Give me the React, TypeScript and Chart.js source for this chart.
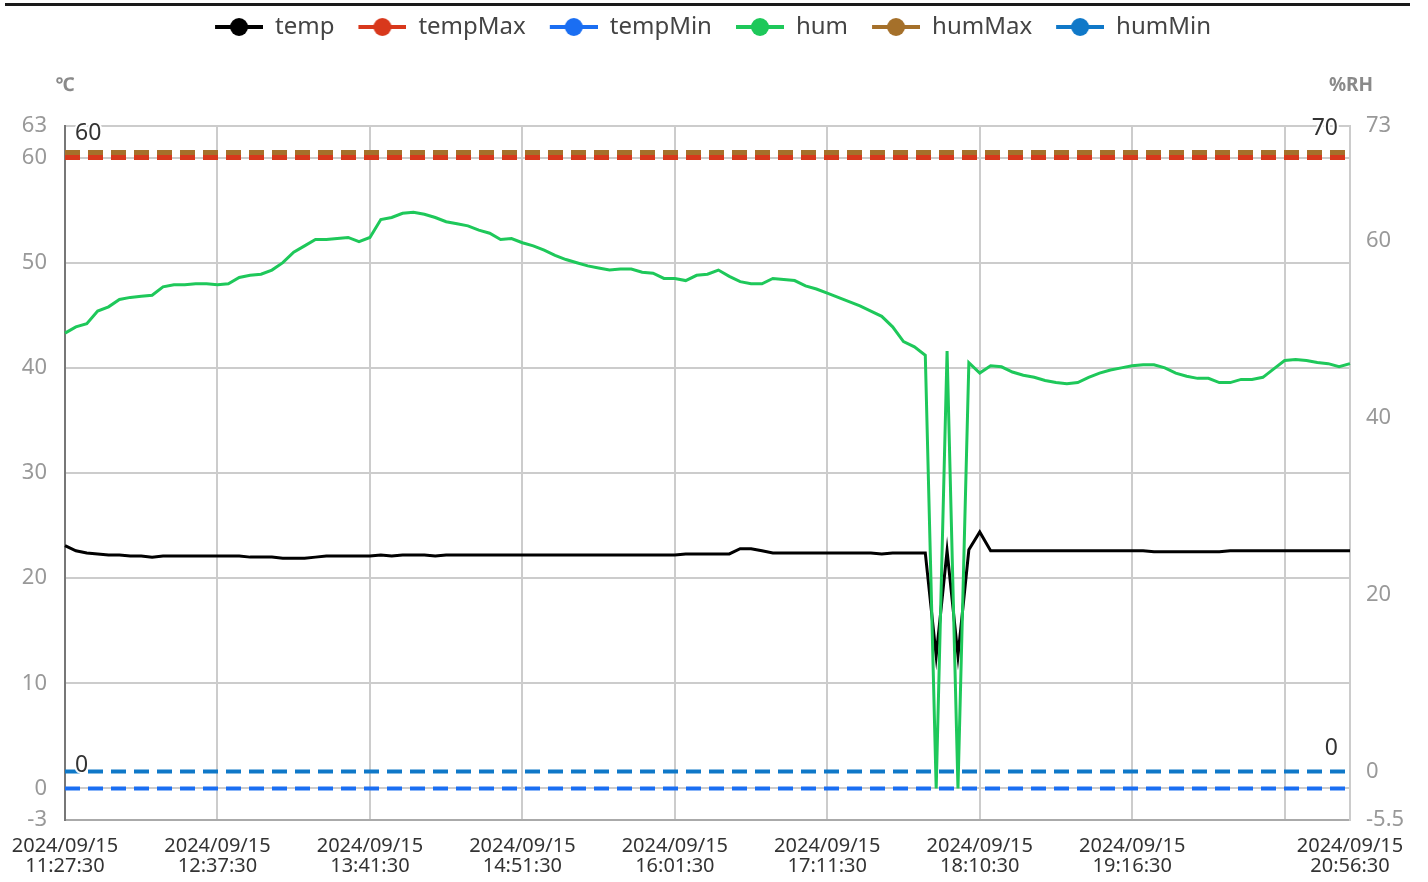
import React, { useEffect, useRef } from "react";
import { Chart, registerables } from "chart.js";

Chart.register(...registerables);

// ---- data ----
const seriesNames = ["temp", "tempMax", "tempMin", "hum", "humMax", "humMin"];
const seriesColors = ["#000000", "#d8381c", "#1a6ef2", "#1ec85a", "#a5702a", "#0f78c8"];

const temp = [
  23.1, 22.6, 22.4, 22.3, 22.2, 22.2, 22.1, 22.1, 22.0, 22.1,
  22.1, 22.1, 22.1, 22.1, 22.1, 22.1, 22.1, 22.0, 22.0, 22.0,
  21.9, 21.9, 21.9, 22.0, 22.1, 22.1, 22.1, 22.1, 22.1, 22.2,
  22.1, 22.2, 22.2, 22.2, 22.1, 22.2, 22.2, 22.2, 22.2, 22.2,
  22.2, 22.2, 22.2, 22.2, 22.2, 22.2, 22.2, 22.2, 22.2, 22.2,
  22.2, 22.2, 22.2, 22.2, 22.2, 22.2, 22.2, 22.3, 22.3, 22.3,
  22.3, 22.3, 22.8, 22.8, 22.6, 22.4, 22.4, 22.4, 22.4, 22.4,
  22.4, 22.4, 22.4, 22.4, 22.4, 22.3, 22.4, 22.4, 22.4, 22.4,
  12.6, 22.6, 12.6, 22.7, 24.4, 22.6, 22.6, 22.6, 22.6, 22.6,
  22.6, 22.6, 22.6, 22.6, 22.6, 22.6, 22.6, 22.6, 22.6, 22.6,
  22.5, 22.5, 22.5, 22.5, 22.5, 22.5, 22.5, 22.6, 22.6, 22.6,
  22.6, 22.6, 22.6, 22.6, 22.6, 22.6, 22.6, 22.6, 22.6,
];

const hum = [
  43.3, 43.9, 44.2, 45.4, 45.8, 46.5, 46.7, 46.8, 46.9, 47.7,
  47.9, 47.9, 48.0, 48.0, 47.9, 48.0, 48.6, 48.8, 48.9, 49.3,
  50.0, 51.0, 51.6, 52.2, 52.2, 52.3, 52.4, 52.0, 52.4, 54.1,
  54.3, 54.7, 54.8, 54.6, 54.3, 53.9, 53.7, 53.5, 53.1, 52.8,
  52.2, 52.3, 51.9, 51.6, 51.2, 50.7, 50.3, 50.0, 49.7, 49.5,
  49.3, 49.4, 49.4, 49.1, 49.0, 48.5, 48.5, 48.3, 48.8, 48.9,
  49.3, 48.7, 48.2, 48.0, 48.0, 48.5, 48.4, 48.3, 47.8, 47.5,
  47.1, 46.7, 46.3, 45.9, 45.4, 44.9, 43.9, 42.5, 42.0, 41.2,
  0, 41.6, 0, 40.5, 39.5, 40.2, 40.1, 39.6, 39.3, 39.1,
  38.8, 38.6, 38.5, 38.6, 39.1, 39.5, 39.8, 40.0, 40.2, 40.3,
  40.3, 40.0, 39.5, 39.2, 39.0, 39.0, 38.6, 38.6, 38.9, 38.9,
  39.1, 39.9, 40.7, 40.8, 40.7, 40.5, 40.4, 40.1, 40.4,
];

const tempMaxValue = 60;
const tempMinValue = 0;
const humMaxValue = 70;
const humMinValue = 0;

const leftTicks = [-3, 0, 10, 20, 30, 40, 50, 60, 63];
const rightTicks = [-5.5, 0, 20, 40, 60, 73];
const leftUnit = "℃";
const rightUnit = "%RH";

const xTickIndex = [0, 14, 28, 42, 56, 70, 84, 98, 112, 118];
const xTickDate = [
  "2024/09/15", "2024/09/15", "2024/09/15", "2024/09/15", "2024/09/15",
  "2024/09/15", "2024/09/15", "2024/09/15", "", "2024/09/15",
];
const xTickTime = [
  "11:27:30", "12:37:30", "13:41:30", "14:51:30", "16:01:30",
  "17:11:30", "18:10:30", "19:16:30", "", "20:56:30",
];

const FONT = "'Noto Sans', sans-serif";

function legendMarker(color: string) {
  const c = document.createElement("canvas");
  c.width = 62;
  c.height = 22;
  const ctx = c.getContext("2d")!;
  ctx.strokeStyle = color;
  ctx.lineWidth = 4;
  ctx.beginPath();
  ctx.moveTo(14, 11);
  ctx.lineTo(62, 11);
  ctx.stroke();
  ctx.fillStyle = color;
  ctx.beginPath();
  ctx.arc(38, 11, 9, 0, Math.PI * 2);
  ctx.fill();
  return c;
}

function drawTag(ctx: CanvasRenderingContext2D, text: string, x: number, y: number, align: CanvasTextAlign) {
  ctx.save();
  ctx.font = `23px ${FONT}`;
  ctx.textAlign = align;
  ctx.textBaseline = "middle";
  ctx.lineJoin = "round";
  ctx.lineWidth = 4;
  ctx.strokeStyle = "rgba(255,255,255,0.95)";
  ctx.strokeText(text, x, y);
  ctx.fillStyle = "#333";
  ctx.fillText(text, x, y);
  ctx.restore();
}

export default function App() {
  const ref = useRef<HTMLCanvasElement | null>(null);

  useEffect(() => {
    if (!ref.current) return;
    Chart.defaults.font.family = FONT;
    const markers = seriesColors.map((c) => legendMarker(c));
    const labels = hum.map((_, i) => String(i));
    const n = labels.length;

    const dashed = (name: string, value: number, color: string, axis: string, order: number, width: number) => ({
      label: name,
      data: new Array(n).fill(value),
      borderColor: color,
      backgroundColor: color,
      borderWidth: width,
      borderDash: [15, 8],
      pointRadius: 0,
      yAxisID: axis,
      order,
    });

    const legendSpacer = {
      id: "legendSpacer",
      beforeInit(chart: any) {
        const orig = chart.legend.fit;
        chart.legend.fit = function () {
          orig.call(this);
          this.height = 121;
        };
      },
    };

    const overlay = {
      id: "overlay",
      afterDraw(chart: any) {
        const { ctx, chartArea, scales } = chart;
        ctx.save();
        ctx.font = `bold 19px ${FONT}`;
        ctx.fillStyle = "#8a8a8a";
        ctx.textAlign = "center";
        ctx.textBaseline = "middle";
        ctx.fillText(leftUnit, chartArea.left, chartArea.top - 40);
        ctx.fillText(rightUnit, chartArea.right + 1, chartArea.top - 40);
        ctx.restore();
        drawTag(ctx, String(tempMaxValue), chartArea.left + 10, scales.y.getPixelForValue(tempMaxValue) - 24, "left");
        drawTag(ctx, String(humMaxValue), chartArea.right - 12, scales.y1.getPixelForValue(humMaxValue) - 24, "right");
        drawTag(ctx, String(tempMinValue), chartArea.left + 10, scales.y.getPixelForValue(tempMinValue) - 23, "left");
        drawTag(ctx, String(humMinValue), chartArea.right - 12, scales.y1.getPixelForValue(humMinValue) - 23, "right");
      },
    };

    const gridColor = "#cccccc";

    const chart = new Chart(ref.current, {
      type: "line",
      data: {
        labels,
        datasets: [
          { label: "temp", data: temp, borderColor: seriesColors[0], backgroundColor: seriesColors[0], borderWidth: 3, pointRadius: 0, yAxisID: "y", order: 1 },
          dashed("tempMax", tempMaxValue, seriesColors[1], "y", 4, 5),
          dashed("tempMin", tempMinValue, seriesColors[2], "y", 2, 4),
          { label: "hum", data: hum, borderColor: seriesColors[3], backgroundColor: seriesColors[3], borderWidth: 3, pointRadius: 0, yAxisID: "y", order: 0 },
          dashed("humMax", humMaxValue, seriesColors[4], "y1", 5, 5),
          dashed("humMin", humMinValue, seriesColors[5], "y1", 3, 4),
        ] as any,
      },
      options: {
        responsive: false,
        animation: false,
        devicePixelRatio: 1,
        events: [],
        layout: { padding: { top: 5, left: 0, right: 16, bottom: 0 } },
        plugins: {
          legend: {
            display: true,
            position: "top",
            align: "center",
            labels: {
              usePointStyle: true,
              pointStyleWidth: 62,
              padding: 10,
              color: "#444",
              font: { size: 24, family: FONT },
              generateLabels: (ch: any) =>
                seriesNames.map((name, i) => ({
                  text: name,
                  fillStyle: seriesColors[i],
                  strokeStyle: seriesColors[i],
                  lineWidth: 0,
                  pointStyle: markers[i],
                  hidden: !ch.isDatasetVisible(i),
                  datasetIndex: i,
                  fontColor: "#444",
                })),
            },
          },
          tooltip: { enabled: false },
        },
        scales: {
          x: {
            type: "category",
            offset: false,
            grid: { color: gridColor, lineWidth: 2, drawTicks: true, tickLength: 12, tickColor: "rgba(0,0,0,0)" },
            border: { color: "#aaaaaa", width: 2 },
            afterBuildTicks: (s: any) => {
              s.ticks = xTickIndex.map((v) => ({ value: v }));
            },
            afterFit: (s: any) => {
              s.height = 62;
            },
            ticks: {
              autoSkip: false,
              maxRotation: 0,
              minRotation: 0,
              padding: 4,
              color: "#333",
              font: { size: 20, lineHeight: 1, family: FONT },
              callback: (value: any) => {
                const k = xTickIndex.indexOf(Number(value));
                if (k < 0 || !xTickDate[k]) return "";
                return [xTickDate[k], xTickTime[k]];
              },
            },
          },
          y: {
            position: "left",
            min: -3,
            max: 63,
            grid: { color: gridColor, lineWidth: 2, drawTicks: false },
            border: { color: "#777777", width: 2 },
            afterBuildTicks: (s: any) => {
              s.ticks = leftTicks.map((v) => ({ value: v }));
            },
            afterFit: (s: any) => {
              s.width = 65;
            },
            ticks: {
              padding: 18,
              color: "#999",
              font: { size: 22, family: FONT },
              callback: (v: any) => String(v),
            },
          },
          y1: {
            position: "right",
            min: -5.5,
            max: 73,
            grid: { display: false, drawTicks: false },
            border: { color: gridColor, width: 2 },
            afterBuildTicks: (s: any) => {
              s.ticks = rightTicks.map((v) => ({ value: v }));
            },
            afterFit: (s: any) => {
              s.width = 62;
            },
            ticks: {
              padding: 16,
              color: "#999",
              font: { size: 22, family: FONT },
              callback: (v: any) => String(v),
            },
          },
        },
      } as any,
      plugins: [legendSpacer, overlay],
    });

    return () => chart.destroy();
  }, []);

  return (
    <div style={{ position: "absolute", left: 0, top: 0, width: 1428, height: 882, background: "#fff" }}>
      <canvas ref={ref} width={1428} height={882} style={{ position: "absolute", left: 0, top: 0, display: "block" }} />
      <div style={{ position: "absolute", left: 5, top: 3, width: 1405, height: 3, background: "#1a1a1a" }} />
    </div>
  );
}
